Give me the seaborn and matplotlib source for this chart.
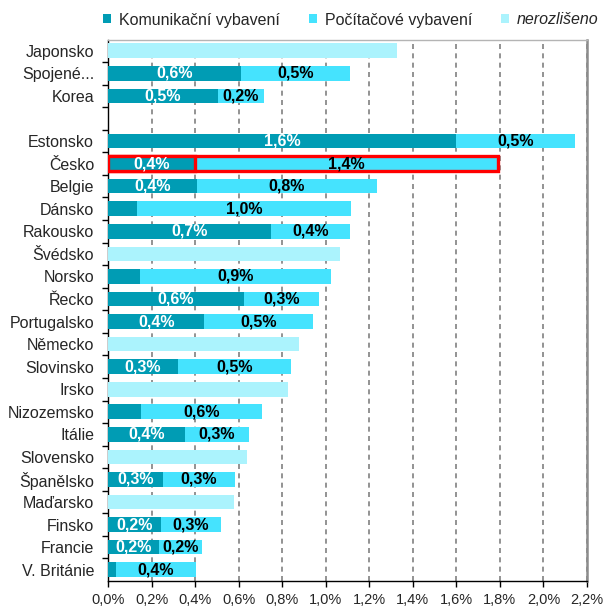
import matplotlib
matplotlib.use('Agg')
import numpy as np
import pandas as pd
import matplotlib.pyplot as plt
from matplotlib.patches import Patch
import seaborn as sns

# Data (podíl na HDP, %)
countries = ['Japonsko', 'Spojené...', 'Korea', ' ', 'Estonsko', 'Česko', 'Belgie', 'Dánsko',
             'Rakousko', 'Švédsko', 'Norsko', 'Řecko', 'Portugalsko', 'Německo', 'Slovinsko',
             'Irsko', 'Nizozemsko', 'Itálie', 'Slovensko', 'Španělsko', 'Maďarsko', 'Finsko',
             'Francie', 'V. Británie']
komunikacni = [0, 0.61, 0.505, 0, 1.60, 0.40, 0.407, 0.131, 0.748, 0, 0.147, 0.624, 0.443,
               0, 0.321, 0, 0.150, 0.353, 0, 0.252, 0, 0.243, 0.234, 0.037]
pocitacove = [0, 0.503, 0.211, 0, 0.546, 1.39, 0.827, 0.987, 0.364, 0, 0.876, 0.347, 0.497,
              0, 0.52, 0, 0.559, 0.295, 0, 0.331, 0, 0.274, 0.196, 0.365]
nerozliseno = [1.328, 0, 0, 0, 0, 0, 0, 0, 0, 1.066, 0, 0, 0, 0.879, 0, 0.827, 0, 0, 0.638,
               0, 0.578, 0, 0, 0]
x_ticks = [0.0, 0.2, 0.4, 0.6, 0.8, 1.0, 1.2, 1.4, 1.6, 1.8, 2.0, 2.2]
x_tick_labels = ['0,0%', '0,2%', '0,4%', '0,6%', '0,8%', '1,0%', '1,2%', '1,4%', '1,6%',
                 '1,8%', '2,0%', '2,2%']
legend_labels = ['Komunikační vybavení', 'Počítačové vybavení', 'nerozlišeno']
highlight = 'Česko'

c_kom = '#009cb4'
c_pc = '#45e3fe'
c_ner = '#abf3fd'

df = pd.DataFrame({'zeme': countries, 'komunikacni': komunikacni,
                   'pocitacove': pocitacove, 'nerozliseno': nerozliseno})
df['celkem'] = df['komunikacni'] + df['pocitacove']

sns.set_style('white')
plt.rcParams['font.family'] = ['Liberation Sans', 'DejaVu Sans']

fig = plt.figure(figsize=(6.06, 6.07), dpi=100)
ax = fig.add_axes([108 / 606, 1 - 581 / 607, 479 / 606, 541.5 / 607])

bw = 0.65
opts = dict(y='zeme', orient='h', width=bw, saturation=1, linewidth=0,
            errorbar=None, ax=ax, zorder=3)
sns.barplot(data=df, x='celkem', color=c_pc, **opts)
sns.barplot(data=df, x='komunikacni', color=c_kom, **opts)
sns.barplot(data=df, x='nerozliseno', color=c_ner, **opts)

# zvýraznění Česka
hi = countries.index(highlight)
for p in ax.patches:
    yc = p.get_y() + p.get_height() / 2
    if abs(yc - hi) < 0.01 and p.get_width() > 0 and p.get_facecolor()[:3] != matplotlib.colors.to_rgb(c_ner):
        p.set_edgecolor('#ff0000')
        p.set_linewidth(2.4)
        p.set_zorder(4)

# popisky hodnot
def fmt(v):
    return f'{v:.1f}'.replace('.', ',') + '%'

for i, row in df.iterrows():
    if row['komunikacni'] >= 0.2:
        ax.text(row['komunikacni'] / 2, i, fmt(row['komunikacni']), ha='center', va='center',
                color='white', fontweight='bold', fontsize=11.5, zorder=6)
    if row['pocitacove'] > 0:
        ax.text(row['komunikacni'] + row['pocitacove'] / 2, i, fmt(row['pocitacove']),
                ha='center', va='center', color='black', fontweight='bold', fontsize=11.5, zorder=6)

ax.set_xlim(0, 2.2)
ax.set_ylim(len(countries) - 0.5, -0.5)
ax.set_xlabel('')
ax.set_ylabel('')

ax.set_xticks(x_ticks)
ax.set_xticklabels(x_tick_labels)
ax.set_yticks(range(len(countries)))
ax.set_yticklabels(countries)
ax.set_yticks(np.arange(0.5, len(countries) - 1, 1), minor=True)
ax.tick_params(axis='y', which='major', length=0, pad=10, labelsize=11.5)
ax.tick_params(axis='y', which='minor', left=True, length=4, width=1, color='black', direction='out')
ax.tick_params(axis='x', which='major', bottom=True, length=4, width=1, color='black',
               direction='out', pad=4.5, labelsize=10.5)

ax.set_axisbelow(True)
ax.grid(axis='x', linestyle=(0, (3, 2.6)), color='#808080', linewidth=1.2, zorder=0)
ax.grid(axis='y', visible=False)

for s in ['left', 'bottom']:
    ax.spines[s].set_color('black')
    ax.spines[s].set_linewidth(1)
ax.spines['right'].set_color('#8c8c8c')
ax.spines['right'].set_linewidth(1.8)
ax.spines['top'].set_color('#b4b4b4')
ax.spines['top'].set_linewidth(1)

handles = [Patch(facecolor=c, edgecolor='none') for c in [c_kom, c_pc, c_ner]]
leg = fig.legend(handles, legend_labels, loc='center left', bbox_to_anchor=(103 / 606, 1 - 20 / 607),
                 ncol=3, frameon=False, fontsize=11.5, handlelength=0.5, handleheight=0.5,
                 handletextpad=0.5, columnspacing=1.8, borderpad=0, borderaxespad=0)
leg.get_texts()[2].set_style('italic')

fig.savefig('out.png', dpi=100)
